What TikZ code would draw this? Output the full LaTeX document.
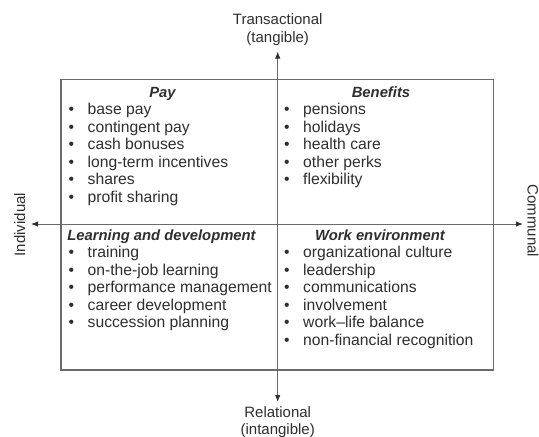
\documentclass[tikz,border=0pt]{standalone}
\usepackage{fontspec}
\setmainfont{Liberation Sans}
\usepackage{xcolor}
\usetikzlibrary{positioning,arrows.meta}
\definecolor{inkgray}{gray}{0.18}
\definecolor{linegray}{gray}{0.42}
\tikzset{
    axis line/.style={draw=linegray, line width=1pt, {Latex[length=7pt,width=5.5pt,color=inkgray]}-{Latex[length=7pt,width=5.5pt,color=inkgray]}},
    axis label/.style={font=\fontsize{15}{17.5}\selectfont, text=inkgray, align=center, inner sep=0pt},
    quad head/.style={font=\fontsize{14.8}{17}\selectfont\bfseries\itshape, text=inkgray, anchor=base, inner sep=0pt},
    quad item/.style={font=\fontsize{15.7}{17.5}\selectfont, text=inkgray, anchor=base west, inner sep=0pt}
}
\newcommand{\bul}[1]{\makebox[19pt][l]{\textbullet}#1}

\begin{document}
\begin{tikzpicture}[x=1pt, y=-1pt]
    \useasboundingbox (0,0) rectangle (539,437);

    % frame and axes
    \draw[linegray, line width=1.1pt] (61,79.5) rectangle (493.5,370);
    \coordinate (N) at (277.7,51.5);
    \coordinate (S) at (277.7,402);
    \coordinate (W) at (31,224);
    \coordinate (E) at (523,224);
    \draw[axis line] (S) -- (N);
    \draw[axis line] (W) -- (E);

    % axis labels
    \node[axis label] (trans) at (277.7,29.5) {Transactional\\(tangible)};
    \node[axis label] (rel) at (277.7,422) {Relational\\(intangible)};
    \node[axis label, rotate=90, anchor=base] (indiv) at (25,224.5) {Individual};
    \node[axis label, rotate=-90, anchor=base] (comm) at (527.5,221) {Communal};

    % quadrant headings
    \node[quad head] (pay) at (162.5,97) {Pay};
    \node[quad head] (benefits) at (381,97) {Benefits};
    \node[quad head] (learning) at (161.5,240.5) {Learning and development};
    \node[quad head] (workenv) at (380,240.5) {Work environment};

    % quadrant lists
    \foreach \t [count=\i] in {base pay, contingent pay, cash bonuses, long-term incentives, shares, profit sharing}
        \node[quad item] (pay\i) at (68.5,{114.5+17.5*(\i-1)}) {\bul{\t}};
    \foreach \t [count=\i] in {pensions, holidays, health care, other perks, flexibility}
        \node[quad item] (ben\i) at (284,{114.5+17.5*(\i-1)}) {\bul{\t}};
    \foreach \t [count=\i] in {training, on-the-job learning, performance management, career development, succession planning}
        \node[quad item] (learn\i) at (68.5,{257.5+17.5*(\i-1)}) {\bul{\t}};
    \foreach \t [count=\i] in {organizational culture, leadership, communications, involvement, work--life balance, non-financial recognition}
        \node[quad item] (work\i) at (284,{257.5+17.5*(\i-1)}) {\bul{\t}};

\end{tikzpicture}
\end{document}
